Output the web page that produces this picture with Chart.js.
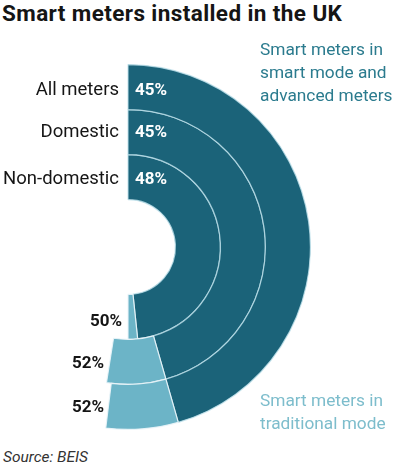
<!DOCTYPE html>
<html>
<head>
<meta charset="utf-8">
<script src="https://cdn.jsdelivr.net/npm/chart.js@4"></script>
<style>
  body { margin: 0; width: 396px; height: 467px; background: #fff; overflow: hidden; position: relative; font-family: Roboto, "Noto Sans", sans-serif; }
  #chart { position: absolute; left: -55px; top: 64px; }
  .t { position: absolute; white-space: nowrap; line-height: 20px; }
  h1 { position: absolute; left: 2px; top: 0; margin: 0; font-size: 22.5px; font-weight: 700; line-height: 26px; color: #151515; letter-spacing: 0.4px; }
  .ring { right: 277px; font-size: 18.5px; color: #151515; text-align: right; }
  .in { left: 135px; font-size: 17px; font-weight: 700; color: #fff; }
  .out { font-size: 17px; font-weight: 700; color: #151515; text-align: right; }
  .leg { left: 260px; font-size: 17.3px; line-height: 23px; }
  .src { left: 3px; top: 447px; font-size: 15.5px; font-style: italic; color: #333; }
</style>
</head>
<body>
<h1>Smart meters installed in the UK</h1>
<canvas id="chart" width="366" height="366"></canvas>
<div id="labels"></div>
<div class="t leg" style="top:38px;color:#2b7b8e">Smart meters in<br>smart mode and<br>advanced meters</div>
<div class="t leg" style="top:389px;color:#7dbdcc">Smart meters in<br>traditional mode</div>
<div class="t src">Source: BEIS</div>
<script>
// Rings, outer to inner
const rings = ["All meters", "Domestic", "Non-domestic"];
const smartPct = [45, 45, 48];
const tradPct = [52, 52, 50];
// arc length of each segment as drawn, in degrees
const smartArc = [164, 164, 174];
const tradArc = [23, 25, 6];

const darkColor = "#1b6379";
const lightColor = "#6cb4c7";

// label positions (vertical centres)
const ringY = [89, 131, 178];
const tradPos = [{ right: 292, y: 406 }, { right: 292, y: 362 }, { right: 274, y: 320 }];

const datasets = rings.map((name, i) => ({
  label: name,
  data: [smartArc[i], tradArc[i], 360 - smartArc[i] - tradArc[i]],
  backgroundColor: [darkColor, lightColor, "rgba(0,0,0,0)"],
  borderColor: ["rgba(190,225,235,0.8)", "rgba(235,245,250,0.9)", "rgba(0,0,0,0)"],
  borderWidth: [1.2, 1.2, 0]
}));

new Chart(document.getElementById("chart"), {
  type: "doughnut",
  data: { labels: ["Smart mode and advanced", "Traditional mode", ""], datasets },
  options: {
    responsive: false,
    animation: false,
    cutout: "26%",
    rotation: 0,
    events: [],
    plugins: { legend: { display: false }, tooltip: { enabled: false } }
  }
});

const lab = document.getElementById("labels");
rings.forEach((name, i) => {
  lab.insertAdjacentHTML("beforeend",
    `<div class="t ring" style="top:${ringY[i] - 10}px">${name}</div>` +
    `<div class="t in" style="top:${ringY[i] - 10}px">${smartPct[i]}%</div>` +
    `<div class="t out" style="right:${tradPos[i].right}px;top:${tradPos[i].y - 10}px">${tradPct[i]}%</div>`);
});
</script>
</body>
</html>
